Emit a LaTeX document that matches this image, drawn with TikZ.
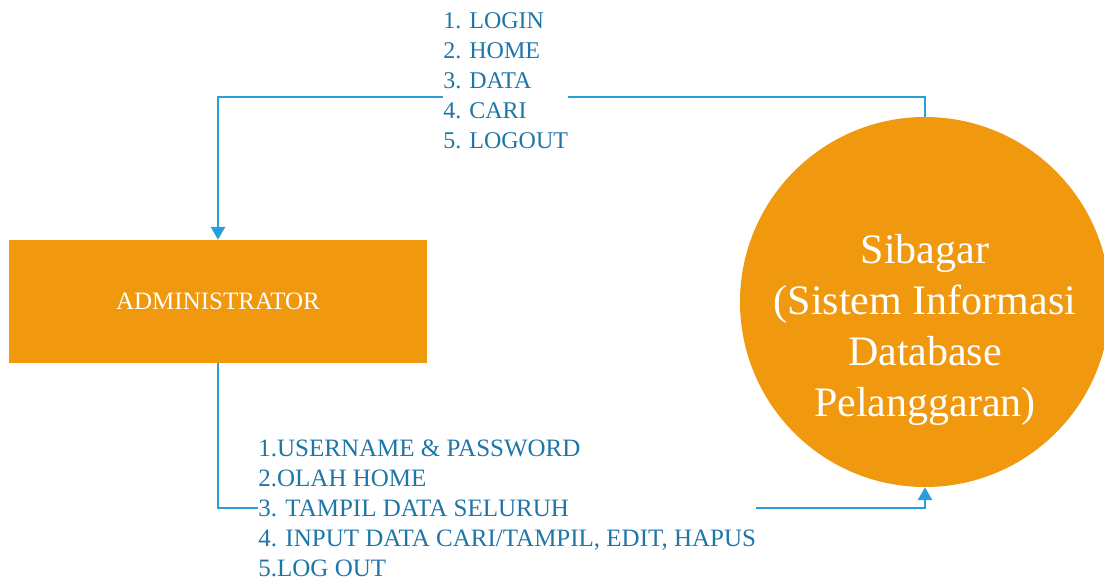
\documentclass[tikz,border=0pt]{standalone}
\usepackage{fontspec}
\setmainfont{Liberation Serif}
\usepackage{tikz}
\usetikzlibrary{arrows}
\definecolor{boxorange}{RGB}{240,152,14}
\definecolor{flowblue}{RGB}{41,158,216}
\definecolor{labelblue}{RGB}{30,118,168}
\tikzset{entity/.style={draw=none,fill=boxorange,text=white}}
\tikzset{flow/.style={draw=flowblue,line width=0.7pt}}
\tikzset{flowtext/.style={fill=white,text=labelblue,inner sep=0pt,align=left}}

\begin{document}
\begin{tikzpicture}[x=0.5pt,y=-0.5pt,>=triangle 60]
\useasboundingbox (0,0) rectangle (1104,579);

\node[entity,shape=rectangle,minimum width=209pt,minimum height=61.5pt,font=\fontsize{12.5}{15}\selectfont] (admin) at (218,301.5) {ADMINISTRATOR};
\node[entity,shape=circle,minimum size=185pt,inner sep=0pt] (sibagar) at (925,302) {};
\node[text=white,align=center,font=\fontsize{21}{25.5}\selectfont] (sibagarname) at (925,330) {Sibagar\\(Sistem Informasi\\Database\\Pelanggaran)};

\coordinate (topbend) at (925,97);
\coordinate (botbend) at (925,508);
\draw[flow,->] (sibagar.north) -- (topbend) -| (admin.north);
\draw[flow,->] (admin.south) |- (botbend) -- (sibagar.south);

\node[flowtext,anchor=west,font=\fontsize{12}{15}\selectfont] (menu) at (443,81) {1. LOGIN\\2. HOME\\3. DATA\\4. CARI\\5. LOGOUT};
\node[flowtext,anchor=west,font=\fontsize{12.5}{15}\selectfont] (input) at (258,508) {1.USERNAME \& PASSWORD\\2.OLAH HOME\\3. TAMPIL DATA SELURUH\\4. INPUT DATA CARI/TAMPIL, EDIT, HAPUS\\5.LOG OUT};

\end{tikzpicture}
\end{document}
